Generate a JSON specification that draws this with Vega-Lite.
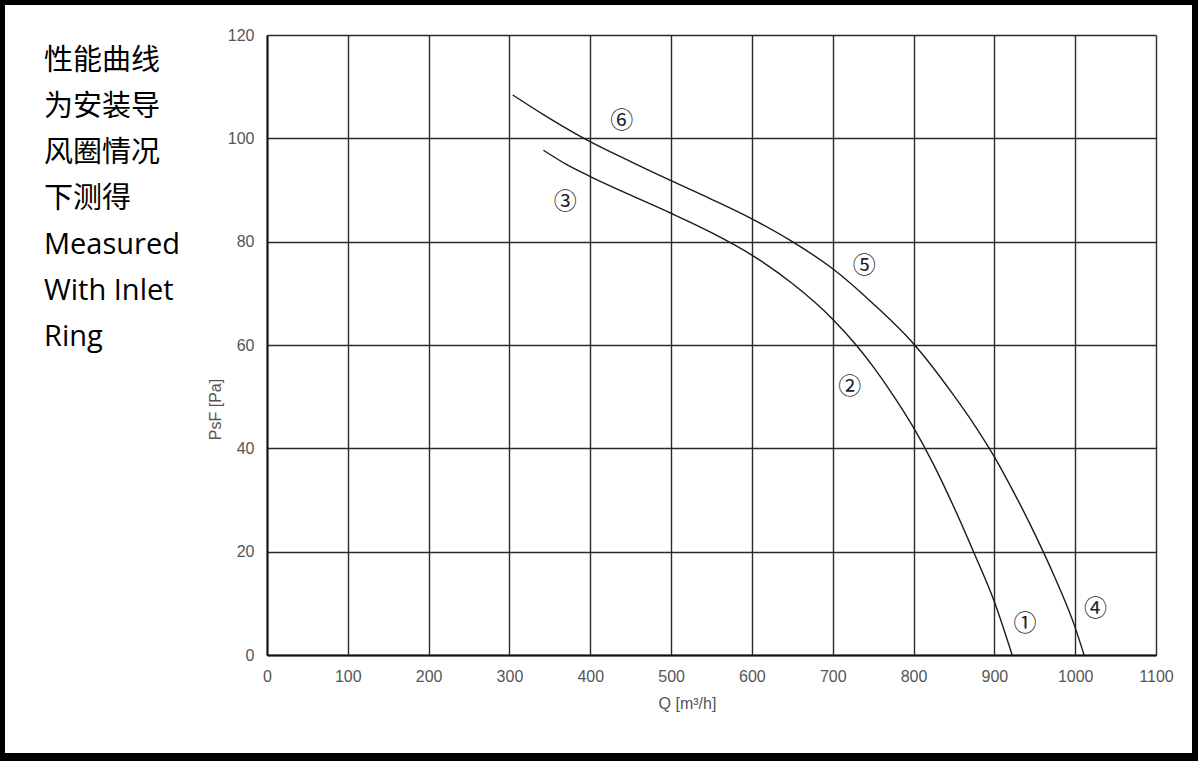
{
  "$schema": "https://vega.github.io/schema/vega-lite/v6.json",
  "width": 1187,
  "height": 748,
  "autosize": {"type": "none"},
  "padding": {"left": 5, "top": 5, "right": 6, "bottom": 8},
  "background": "#000000",
  "title": {
    "text": ["性能曲线", "为安装导", "风圈情况", "下测得", "Measured", "With Inlet", "Ring"],
    "anchor": "start",
    "frame": "group",
    "orient": "top",
    "offset": 0,
    "dx": 39,
    "dy": 347,
    "font": "Open Sans, Noto Sans CJK SC",
    "fontSize": 29,
    "fontWeight": "normal",
    "color": "#000000",
    "lineHeight": 46
  },
  "datasets": {
    "curves": [
      {"curve": "A", "q": 342, "p": 97.7},
      {"curve": "A", "q": 371, "p": 94.9},
      {"curve": "A", "q": 400, "p": 92.6},
      {"curve": "A", "q": 450, "p": 89.0},
      {"curve": "A", "q": 500, "p": 85.5},
      {"curve": "A", "q": 550, "p": 81.75},
      {"curve": "A", "q": 600, "p": 77.4},
      {"curve": "A", "q": 650, "p": 71.9},
      {"curve": "A", "q": 700, "p": 65.0},
      {"curve": "A", "q": 730, "p": 59.8},
      {"curve": "A", "q": 750, "p": 55.8},
      {"curve": "A", "q": 775, "p": 50.2},
      {"curve": "A", "q": 800, "p": 44.0},
      {"curve": "A", "q": 825, "p": 36.8},
      {"curve": "A", "q": 850, "p": 28.6},
      {"curve": "A", "q": 875, "p": 19.7},
      {"curve": "A", "q": 900, "p": 10.3},
      {"curve": "A", "q": 922, "p": 0.0},
      {"curve": "B", "q": 304, "p": 108.4},
      {"curve": "B", "q": 342, "p": 104.6},
      {"curve": "B", "q": 391, "p": 100.1},
      {"curve": "B", "q": 450, "p": 95.5},
      {"curve": "B", "q": 500, "p": 91.8},
      {"curve": "B", "q": 550, "p": 88.2},
      {"curve": "B", "q": 600, "p": 84.4},
      {"curve": "B", "q": 650, "p": 80.0},
      {"curve": "B", "q": 700, "p": 74.75},
      {"curve": "B", "q": 750, "p": 68.0},
      {"curve": "B", "q": 800, "p": 60.25},
      {"curve": "B", "q": 850, "p": 50.2},
      {"curve": "B", "q": 875, "p": 44.6},
      {"curve": "B", "q": 900, "p": 38.35},
      {"curve": "B", "q": 925, "p": 31.2},
      {"curve": "B", "q": 950, "p": 23.45},
      {"curve": "B", "q": 975, "p": 14.95},
      {"curve": "B", "q": 1000, "p": 5.3},
      {"curve": "B", "q": 1011, "p": 0.0}
    ],
    "tags": [
      {"label": "①", "q": 938, "p": 6.0},
      {"label": "②", "q": 721, "p": 51.9},
      {"label": "③", "q": 369, "p": 87.7},
      {"label": "④", "q": 1025, "p": 9.0},
      {"label": "⑤", "q": 739, "p": 75.3},
      {"label": "⑥", "q": 439, "p": 103.4}
    ]
  },
  "layer": [
    {
      "data": {"name": "curves"},
      "mark": {"type": "line", "interpolate": "monotone", "color": "#1a1a1a", "strokeWidth": 1.4},
      "encoding": {
        "x": {
          "field": "q",
          "type": "quantitative",
          "scale": {"domain": [0, 1100], "range": [262, 1151], "nice": false},
          "axis": {
            "orient": "bottom",
            "offset": -98,
            "values": [0, 100, 200, 300, 400, 500, 600, 700, 800, 900, 1000, 1100],
            "format": "d",
            "grid": false,
            "ticks": false,
            "tickSize": 0,
            "domain": true,
            "domainColor": "#111111",
            "domainWidth": 2,
            "labelFont": "Liberation Sans",
            "labelFontSize": 16,
            "labelColor": "#555555",
            "labelPadding": 13,
            "labelFlush": false,
            "labelOverlap": false,
            "title": "Q [m³/h]",
            "titleFont": "Liberation Sans",
            "titleFontSize": 16,
            "titleFontWeight": "normal",
            "titleColor": "#555555",
            "titleX": 682,
            "titleY": 48,
            "titleBaseline": "middle"
          }
        },
        "y": {
          "field": "p",
          "type": "quantitative",
          "scale": {"domain": [0, 120], "range": [650, 30], "nice": false},
          "axis": {
            "orient": "left",
            "offset": -262,
            "values": [0, 20, 40, 60, 80, 100, 120],
            "format": "d",
            "grid": true,
            "gridColor": "#2a2a2a",
            "gridWidth": 1.4,
            "gridOpacity": 1,
            "ticks": false,
            "tickSize": 0,
            "domain": true,
            "domainColor": "#111111",
            "domainWidth": 2,
            "labelFont": "Liberation Sans",
            "labelFontSize": 16,
            "labelColor": "#555555",
            "labelPadding": 13,
            "labelOverlap": false,
            "title": "PsF [Pa]",
            "titleFont": "Liberation Sans",
            "titleFontSize": 16,
            "titleFontWeight": "normal",
            "titleColor": "#555555",
            "titleX": -52,
            "titleY": 404,
            "titleBaseline": "middle"
          }
        },
        "detail": {"field": "curve"}
      }
    },
    {
      "data": {"name": "tags"},
      "mark": {"type": "text", "font": "Noto Sans CJK SC", "fontSize": 23, "color": "#222222", "align": "center", "baseline": "middle"},
      "encoding": {
        "x": {
          "field": "q",
          "type": "quantitative",
          "axis": {
            "orient": "top",
            "offset": 0,
            "values": [0, 100, 200, 300, 400, 500, 600, 700, 800, 900, 1000, 1100],
            "grid": true,
            "gridColor": "#2a2a2a",
            "gridWidth": 1.4,
            "gridOpacity": 1,
            "ticks": false,
            "labels": false,
            "domain": false,
            "title": null
          }
        },
        "y": {
          "field": "p",
          "type": "quantitative",
          "axis": {
            "orient": "left",
            "offset": -262,
            "values": [0, 20, 40, 60, 80, 100, 120],
            "format": "d",
            "grid": true,
            "gridColor": "#2a2a2a",
            "gridWidth": 1.4,
            "gridOpacity": 1,
            "ticks": false,
            "tickSize": 0,
            "domain": true,
            "domainColor": "#111111",
            "domainWidth": 2,
            "labelFont": "Liberation Sans",
            "labelFontSize": 16,
            "labelColor": "#555555",
            "labelPadding": 13,
            "labelOverlap": false,
            "title": "PsF [Pa]",
            "titleFont": "Liberation Sans",
            "titleFontSize": 16,
            "titleFontWeight": "normal",
            "titleColor": "#555555",
            "titleX": -52,
            "titleY": 404,
            "titleBaseline": "middle"
          }
        },
        "text": {"field": "label"}
      }
    }
  ],
  "resolve": {"axis": {"x": "independent"}},
  "config": {"view": {"fill": "#ffffff", "stroke": null}}
}
